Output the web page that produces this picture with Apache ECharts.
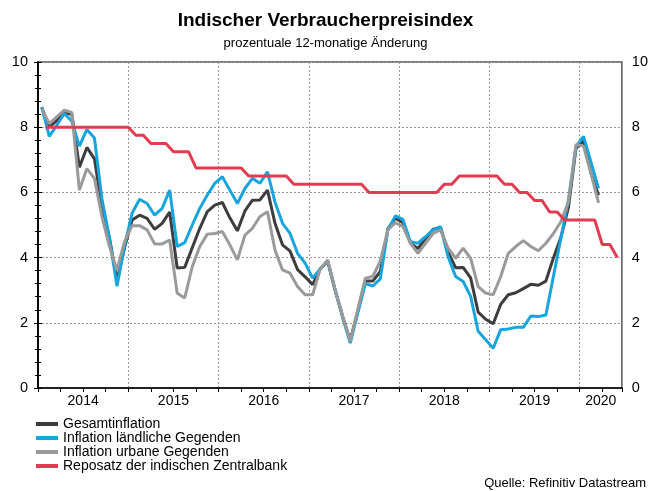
<!DOCTYPE html>
<html>
<head>
<meta charset="utf-8">
<script src="https://cdn.jsdelivr.net/npm/echarts@6/dist/echarts.min.js"></script>
<style>
  html, body { margin: 0; padding: 0; background: #fff; }
  #chart { width: 651px; height: 491px; }
</style>
</head>
<body>
<div id="chart"></div>
<script>
// monthly data, Jan 2014 onwards
const years = ['2014', '2015', '2016', '2017', '2018', '2019', '2020']
const yTicks = [0, 2, 4, 6, 8, 10]

const gesamt = [
  8.6, 8.0, 8.2, 8.45, 8.4, 6.77, 7.38, 7.03, 5.55, 4.6, 3.3, 4.3,
  5.15, 5.3, 5.2, 4.87, 5.05, 5.4, 3.68, 3.7, 4.3, 4.9, 5.41, 5.61,
  5.69, 5.22, 4.82, 5.43, 5.76, 5.77, 6.07, 5.05, 4.39, 4.2, 3.63, 3.41,
  3.17, 3.65, 3.89, 2.99, 2.18, 1.46, 2.36, 3.28, 3.28, 3.58, 4.88, 5.21,
  5.07, 4.44, 4.28, 4.58, 4.87, 4.92, 4.17, 3.69, 3.7, 3.38, 2.33, 2.11,
  1.97, 2.57, 2.86, 2.92, 3.05, 3.18, 3.15, 3.28, 3.99, 4.62, 5.54, 7.35,
  7.59, 6.58, 5.91,
]
const laendlich = [
  8.62, 7.72, 8.06, 8.42, 8.18, 7.42, 7.93, 7.67, 5.8, 4.6, 3.12, 4.35,
  5.36, 5.79, 5.66, 5.3, 5.51, 6.07, 4.34, 4.46, 5.0, 5.51, 5.92, 6.28,
  6.48, 6.07, 5.66, 6.12, 6.43, 6.28, 6.63, 5.7, 5.05, 4.74, 4.13, 3.83,
  3.37, 3.65, 3.9, 3.0, 2.15, 1.38, 2.3, 3.2, 3.13, 3.35, 4.85, 5.28,
  5.17, 4.49, 4.44, 4.64, 4.85, 4.95, 4.03, 3.42, 3.27, 2.81, 1.74, 1.48,
  1.22, 1.79, 1.81, 1.86, 1.86, 2.21, 2.19, 2.24, 3.42, 4.6, 5.77, 7.4,
  7.72, 6.93, 6.12,
]
const urban = [
  8.57, 8.11, 8.32, 8.52, 8.45, 6.07, 6.73, 6.43, 5.26, 4.34, 3.62, 4.49,
  4.98, 4.98, 4.85, 4.42, 4.42, 4.54, 2.91, 2.76, 3.72, 4.34, 4.72, 4.74,
  4.8, 4.39, 3.93, 4.69, 4.9, 5.26, 5.41, 4.23, 3.62, 3.52, 3.11, 2.86,
  2.86, 3.65, 3.93, 3.0, 2.2, 1.43, 2.4, 3.37, 3.42, 3.9, 4.85, 5.07,
  4.95, 4.44, 4.13, 4.44, 4.74, 4.85, 4.29, 3.98, 4.29, 3.98, 3.11, 2.91,
  2.86, 3.42, 4.13, 4.34, 4.52, 4.34, 4.21, 4.44, 4.74, 5.1, 5.71, 7.47,
  7.42, 6.58, 5.68,
]
// repo rate at month end, Jan 2014 - May 2020
const repo = [
  8, 8, 8, 8, 8, 8, 8, 8, 8, 8, 8, 8,
  7.75, 7.75, 7.5, 7.5, 7.5, 7.25, 7.25, 7.25, 6.75, 6.75, 6.75, 6.75,
  6.75, 6.75, 6.75, 6.5, 6.5, 6.5, 6.5, 6.5, 6.5, 6.25, 6.25, 6.25,
  6.25, 6.25, 6.25, 6.25, 6.25, 6.25, 6.25, 6, 6, 6, 6, 6,
  6, 6, 6, 6, 6, 6.25, 6.25, 6.5, 6.5, 6.5, 6.5, 6.5,
  6.5, 6.25, 6.25, 6, 6, 5.75, 5.75, 5.4, 5.4, 5.15, 5.15, 5.15,
  5.15, 5.15, 4.4, 4.4, 4.0,
]

const font = 'Liberation Sans, Arial, sans-serif'
const xMax = 77.6

// x in months since Jan 2014: CPI mid-month, repo at month end
const pts = (arr, off) => arr.map((v, i) => [i + off, v])

const chart = echarts.init(document.getElementById('chart'))

const yAxisBase = {
  type: 'value',
  min: 0,
  max: 10,
  interval: 2,
  axisLine: { show: true, lineStyle: { color: '#000', width: 1.5 } },
  axisTick: { show: true, length: 4, lineStyle: { color: '#000' } },
  minorTick: { show: true, splitNumber: 5, length: 3, lineStyle: { color: '#000' } },
  axisLabel: { color: '#000', fontSize: 14.5, fontFamily: font, margin: 10 },
}

chart.setOption({
  animation: false,
  backgroundColor: '#fff',
  title: {
    text: 'Indischer Verbraucherpreisindex',
    subtext: 'prozentuale 12-monatige Änderung',
    left: 'center',
    top: 6,
    itemGap: 7,
    textStyle: { fontFamily: font, fontSize: 19, fontWeight: 'bold', color: '#000' },
    subtextStyle: { fontFamily: font, fontSize: 13, color: '#000' },
  },
  grid: {
    left: 38, right: 25, top: 62, bottom: 103,
    show: true, borderColor: '#555', borderWidth: 1.5,
  },
  xAxis: [
    {
      type: 'value',
      min: 0,
      max: xMax,
      interval: 3,
      axisLine: { lineStyle: { color: '#000', width: 1.5 } },
      axisTick: { show: true, length: 4, lineStyle: { color: '#000' } },
      splitLine: { show: false },
      axisLabel: {
        customValues: [6, 18, 30, 42, 54, 66, 74.8],
        formatter: v => years[Math.floor(v / 12)],
        color: '#000', fontSize: 14, fontFamily: font, margin: 6,
      },
    },
    {
      type: 'value',
      min: 0,
      max: xMax,
      interval: 12,
      position: 'bottom',
      axisLine: { show: false },
      axisTick: { show: false },
      axisLabel: { show: false },
      splitLine: { show: true, lineStyle: { color: '#999', type: [2, 2], width: 1 } },
    },
  ],
  yAxis: [
    {
      ...yAxisBase,
      position: 'left',
      splitLine: { show: true, lineStyle: { color: '#999', type: [2, 2], width: 1 } },
    },
    {
      ...yAxisBase,
      position: 'right',
      splitLine: { show: false },
    },
  ],
  legend: {
    orient: 'vertical',
    left: 36,
    top: 417,
    padding: 0,
    itemWidth: 22,
    itemHeight: 4,
    itemGap: 0,
    icon: 'rect',
    textStyle: { fontFamily: font, fontSize: 14, color: '#000' },
  },
  graphic: [{
    type: 'text',
    right: 5,
    bottom: 1,
    style: { text: 'Quelle: Refinitiv Datastream', font: '13px ' + font, fill: '#000' },
  }],
  series: [
    { name: 'Gesamtinflation', data: pts(gesamt, 0.5), color: '#3d3d3d' },
    { name: 'Inflation ländliche Gegenden', data: pts(laendlich, 0.5), color: '#18a5dd' },
    { name: 'Inflation urbane Gegenden', data: pts(urban, 0.5), color: '#9a9a9a' },
    { name: 'Reposatz der indischen Zentralbank', data: pts(repo, 1), color: '#e13c52' },
  ].map(s => ({
    ...s,
    type: 'line',
    showSymbol: false,
    symbol: 'none',
    lineStyle: { width: 3, color: s.color },
    itemStyle: { color: s.color },
  })),
})
</script>
</body>
</html>
